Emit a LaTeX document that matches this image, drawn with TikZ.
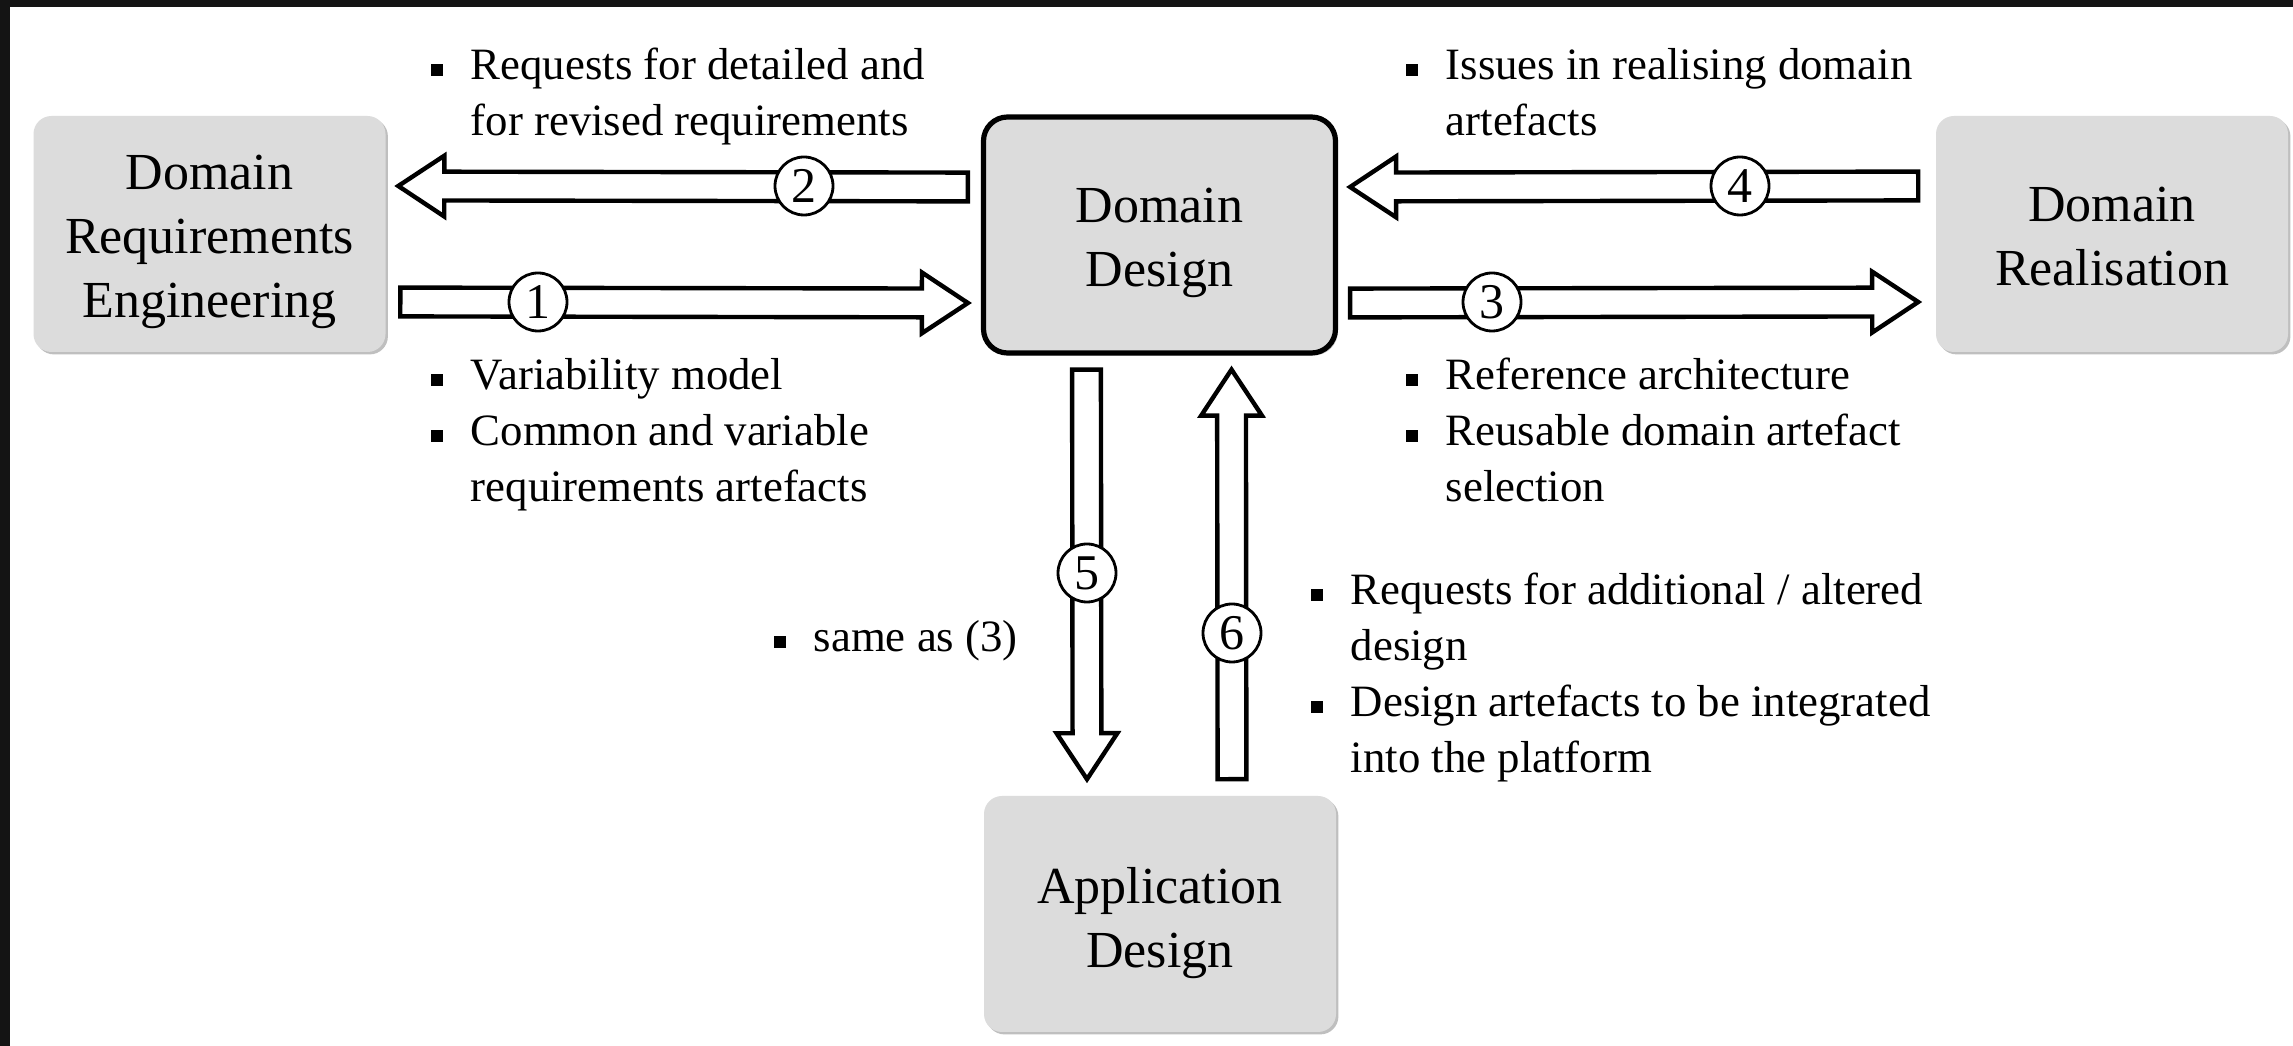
\documentclass[tikz,border=0pt]{standalone}
\usepackage{fontspec}
\setmainfont{Liberation Serif}
\usepackage{xcolor}
\usetikzlibrary{positioning, calc, shadows}

\definecolor{boxgray}{HTML}{DCDCDC}
\definecolor{framedark}{HTML}{141414}

\newcommand{\itm}{\rule[0.2ex]{3pt}{3pt}}
\newcommand{\notelist}[1]{\begin{tabular}[t]{@{}l@{\hspace{7pt}}l@{}}#1\end{tabular}}
\newcommand{\phasetext}[2][15pt]{\parbox[c][59pt][t]{88pt}{\centering\vspace*{#1}\strut #2}}

\begin{document}
\begin{tikzpicture}[
    x=0.25pt, y=-0.25pt,
    phase/.style={rectangle, rounded corners=4.5pt, fill=boxgray, minimum width=88pt, minimum height=59pt, inner sep=0pt, font=\fontsize{13}{16.1}\selectfont,
        drop shadow={shadow xshift=0.6pt, shadow yshift=-0.6pt, fill=black!50, opacity=0.5}},
    core/.style={phase, draw=black, line width=1.3pt, rounded corners=6pt},
    num/.style={circle, draw=black, line width=0.7pt, fill=white, minimum size=14.5pt, inner sep=0pt, font=\fontsize{12.5}{12.5}\selectfont},
    note/.style={anchor=base west, inner sep=0pt, font=\fontsize{11.2}{14}\selectfont},
    fatarrow/.style={draw=black, line width=1.1pt, fill=white, line join=miter,
        to path={let \p1=(\tikztostart), \p2=(\tikztotarget),
            \n1={veclen(\x2-\x1,\y2-\y1)}, \n2={(\x2-\x1)/\n1}, \n3={(\y2-\y1)/\n1} in
            ({\x1-\n3*3.6pt},{\y1+\n2*3.6pt})
            -- ({\x2-\n2*11.5pt-\n3*3.6pt},{\y2-\n3*11.5pt+\n2*3.6pt})
            -- ({\x2-\n2*11.5pt-\n3*7.6pt},{\y2-\n3*11.5pt+\n2*7.6pt})
            -- (\p2)
            -- ({\x2-\n2*11.5pt+\n3*7.6pt},{\y2-\n3*11.5pt-\n2*7.6pt})
            -- ({\x2-\n2*11.5pt+\n3*3.6pt},{\y2-\n3*11.5pt-\n2*3.6pt})
            -- ({\x1+\n3*3.6pt},{\y1-\n2*3.6pt})
            -- cycle}}
]

    % Canvas and frame
    \useasboundingbox[fill=white] (0,0) rectangle (2293,1046);
    \fill[framedark] (0,0) rectangle (2293,7);
    \fill[framedark] (0,0) rectangle (10,1046);

    % Phases
    \node[phase] (dre) at (209.5,234) {\phasetext[7pt]{Domain\\Requirements\\Engineering}};
    \node[core] (dd) at (1159.5,235) {\phasetext{Domain\\Design}};
    \node[phase] (dr) at (2112,234) {\phasetext{Domain\\Realisation}};
    \node[phase] (ad) at (1160,914) {\phasetext[15.5pt]{Application\\Design}};

    % Flows
    \draw[fatarrow] ([xshift=-3.25pt,yshift=12pt]dd.west) to ([xshift=3pt,yshift=12pt]dre.east);
    \draw[fatarrow] ([xshift=3.5pt,yshift=-17pt]dre.east) to ([xshift=-3.25pt,yshift=-17pt]dd.west);
    \draw[fatarrow] ([xshift=-4.25pt,yshift=12pt]dr.west) to ([xshift=3pt,yshift=12pt]dd.east);
    \draw[fatarrow] ([xshift=3pt,yshift=-17pt]dd.east) to ([xshift=-4.25pt,yshift=-17pt]dr.west);
    \draw[fatarrow] ([xshift=-18.25pt,yshift=-3.5pt]dd.south) to ([xshift=-18.25pt,yshift=4pt]ad.north);
    \draw[fatarrow] ([xshift=18pt,yshift=4pt]ad.north) to ([xshift=18pt,yshift=-3.5pt]dd.south);

    % Flow numbers
    \node[num] (n1) at (538,302) {1};
    \node[num] (n2) at (804,186) {2};
    \node[num] (n3) at (1492,302) {3};
    \node[num] (n4) at (1740,186) {4};
    \node[num] (n5) at (1087,573) {5};
    \node[num] (n6) at (1232,633) {6};

    % Flow contents
    \node[note] (t2) at (430,80) {\notelist{\itm & Requests for detailed and\\ & for revised requirements}};
    \node[note] (t1) at (430,390) {\notelist{\itm & Variability model\\ \itm & Common and variable\\ & requirements artefacts}};
    \node[note] (t4) at (1405,80) {\notelist{\itm & Issues in realising domain\\ & artefacts}};
    \node[note] (t3) at (1405,390) {\notelist{\itm & Reference architecture\\ \itm & Reusable domain artefact\\ & selection}};
    \node[note] (t5) at (773,652) {\notelist{\itm & same as (3)}};
    \node[note] (t6) at (1310,605) {\notelist{\itm & Requests for additional / altered\\ & design\\ \itm & Design artefacts to be integrated\\ & into the platform}};

\end{tikzpicture}
\end{document}
